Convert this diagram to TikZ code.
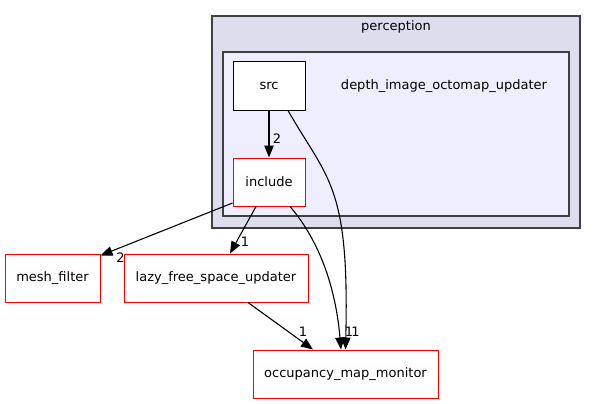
\documentclass[tikz,border=0pt]{standalone}
\usepackage{fontspec}
\setmainfont{DejaVu Sans}
\usetikzlibrary{arrows.meta}

\begin{document}
\begin{tikzpicture}[x=1pt, y=-1pt, font=\fontsize{13}{15}\selectfont]
			\tikzset{dossier/.style={rectangle, draw=red, fill=white, line width=1pt, minimum height=48pt, inner sep=0pt, text centered},
			groupe/.style={draw=black!75, line width=1.3pt},
			fleche/.style={line width=1.1pt, -{Triangle[length=12pt, width=9.5pt]}},
			etiq/.style={inner sep=0pt}};

			\useasboundingbox (0,0) rectangle (597,404);

			\draw[groupe, fill={rgb,255:red,221;green,221;blue,238}] (212,16) rectangle (580,228);
			\node (perception) at (396,27) {perception};
			\draw[groupe, fill={rgb,255:red,238;green,238;blue,255}] (223,52) rectangle (569,216);
			\node (depth) at (444,86) {depth\_image\_octomap\_updater};

			\node[dossier, draw=black, minimum width=72] (src) at (269,86) {src};
			\foreach \name/\x/\y/\larg/\texte in {include/269/182/72/include, mesh/52.5/278/95/mesh\_filter, lazy/216/278/184/lazy\_free\_space\_updater, occupancy/345.5/374/185/occupancy\_map\_monitor}{
				\node[dossier, minimum width=\larg] (\name) at (\x,\y) {\texte};
			}

			\draw[fleche] (src) -- (include) node[etiq, pos=1, xshift=8pt, yshift=19pt] {2};
			\draw[fleche] ([yshift=-21pt]include.west) -- ([yshift=-2pt]mesh.north east) node[etiq, pos=1, xshift=20pt, yshift=-2pt] {2};
			\draw[fleche] ([xshift=-13pt]include.south) -- ([xshift=14pt]lazy.north) node[etiq, pos=1, xshift=15pt, yshift=12pt] {1};
			\draw[fleche] ([xshift=32pt]lazy.south) -- ([xshift=-32.5pt]occupancy.north) node[etiq, pos=1, xshift=-10pt, yshift=18pt] {1};
			\draw[fleche] ([xshift=21pt]include.south) .. controls +(25,29) and +(-6,-70) .. ([xshift=-4.5pt]occupancy.north) node[etiq, pos=1, xshift=8pt, yshift=18pt] {1};
			\draw[fleche] ([xshift=19pt]src.south) .. controls +(40,70) and +(4,-165) .. (occupancy.north) node[etiq, pos=1, xshift=10pt, yshift=18pt] {1};

		\end{tikzpicture}
\end{document}
